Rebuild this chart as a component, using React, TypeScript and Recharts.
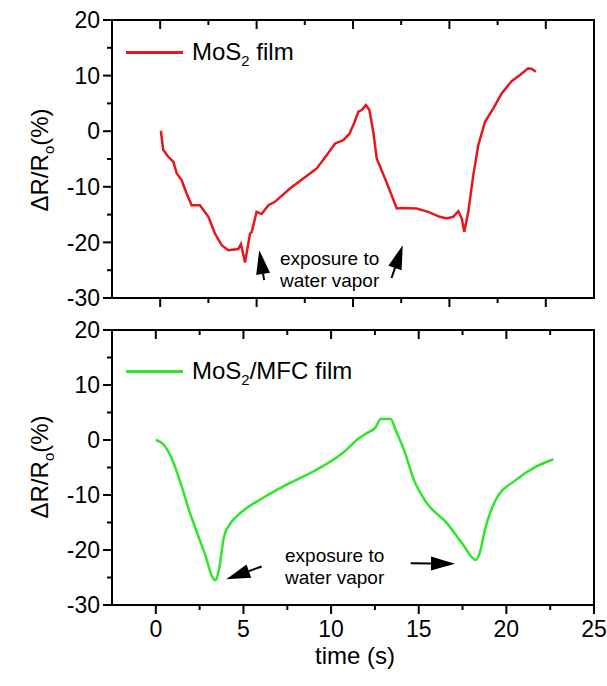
import React from 'react';
import { LineChart, Line, XAxis, YAxis, ReferenceArea, ReferenceLine } from 'recharts';

// MoS2 film response (top panel)
const mos2Time = [0.0, 0.04, 0.16, 0.42, 0.68, 0.86, 1.11, 1.37, 1.63, 2.06, 2.5, 2.84, 3.19, 3.53, 4.05, 4.19, 4.4, 4.66, 4.75, 5.0, 5.26, 5.61, 5.95, 6.73, 7.42, 8.12, 8.64, 9.07, 9.5, 9.81, 10.05, 10.28, 10.45, 10.67, 10.85, 11.05, 11.23, 11.66, 12.0, 12.27, 12.53, 13.3, 13.9, 14.5, 14.86, 15.2, 15.46, 15.64, 15.77, 15.98, 16.24, 16.5, 16.85, 17.28, 17.71, 18.23, 18.66, 19.09, 19.27, 19.49];
const mos2Resp = [0.0, -0.1, -3.4, -4.6, -5.5, -7.6, -8.8, -11.2, -13.3, -13.3, -15.4, -18.4, -20.5, -21.4, -21.2, -20.3, -23.6, -18.4, -18.1, -14.5, -14.9, -13.3, -12.7, -10.3, -8.5, -6.7, -4.3, -2.2, -1.6, -0.5, 1.4, 3.5, 3.8, 4.7, 3.8, -0.1, -4.9, -8.5, -11.5, -13.9, -13.8, -13.9, -14.5, -15.4, -15.7, -15.4, -14.4, -15.7, -18.1, -14.5, -7.9, -2.5, 1.7, 4.1, 6.8, 9.0, 10.1, 11.3, 11.2, 10.7];

// MoS2/MFC film response (bottom panel)
const mfcTime = [0.0, 0.47, 0.94, 1.42, 1.89, 2.37, 2.85, 3.22, 3.42, 3.6, 3.89, 4.27, 4.93, 6.08, 7.6, 9.12, 10.64, 11.59, 12.07, 12.54, 12.83, 13.4, 13.68, 14.16, 14.73, 15.4, 16.63, 17.48, 18.25, 18.44, 18.82, 19.39, 20.53, 21.67, 22.68];
const mfcResp = [0.0, -0.9, -3.6, -7.9, -12.7, -17.0, -21.2, -24.9, -25.5, -23.6, -17.6, -15.1, -13.0, -10.6, -7.9, -5.5, -2.4, 0.3, 1.3, 2.3, 3.8, 3.8, 1.8, -1.8, -7.3, -11.2, -15.2, -18.8, -21.8, -20.9, -15.8, -10.9, -7.3, -4.9, -3.5];

const yTicks = [-30, -25, -20, -15, -10, -5, 0, 5, 10, 15, 20];
const topTimeTicks = [0, 2.5, 5, 7.5, 10, 12.5, 15, 17.5, 20];
const bottomTimeTicks = [0, 2.5, 5, 7.5, 10, 12.5, 15, 17.5, 20, 22.5, 25];

// annotation arrows: [tailX, tailY, tipX, tipY]
const topArrows = [
  [5.39, -26.8, 5.14, -21.4],
  [12.0, -26.4, 12.58, -20.5],
];
const bottomArrows = [
  [6.04, -23.0, 4.02, -25.3],
  [14.54, -22.4, 17.07, -22.5],
];

const FONT = '"Liberation Sans", Arial, Helvetica, sans-serif';
const RED = '#e8171c';
const GREEN = '#2ee62e';

const mos2Data = mos2Time.map((t, i) => ({ t, r: mos2Resp[i] }));
const mfcData = mfcTime.map((t, i) => ({ t, r: mfcResp[i] }));

const makeXTick = (plotH: number, showLabels: boolean) => (props: any) => {
  const { x, y, payload } = props;
  const v = payload.value;
  const major = Math.abs(v % 5) < 1e-6;
  const len = major ? 9 : 5;
  return (
    <g>
      <line x1={x} y1={y} x2={x} y2={y + len} stroke="#000" strokeWidth={2} />
      <line x1={x} y1={y - plotH} x2={x} y2={y - plotH + len} stroke="#000" strokeWidth={2} />
      {showLabels && major && (
        <text x={x} y={y + 24} dy="0.36em" textAnchor="middle" fontSize={23} fontFamily={FONT} fill="#000">
          {v}
        </text>
      )}
    </g>
  );
};

const YTick = (props: any) => {
  const { x, y, payload } = props;
  const v = payload.value;
  const major = v % 10 === 0;
  return (
    <g>
      <line x1={x - (major ? 9 : 5)} y1={y} x2={x} y2={y} stroke="#000" strokeWidth={2} />
      {major && (
        <text x={x - 12} y={y} dy="0.36em" textAnchor="end" fontSize={23} fontFamily={FONT} fill="#000">
          {v}
        </text>
      )}
    </g>
  );
};

const arrowShape = (p: any) => {
  const { x1, y1, x2, y2 } = p;
  const dx = x2 - x1;
  const dy = y2 - y1;
  const L = Math.hypot(dx, dy) || 1;
  const ux = dx / L;
  const uy = dy / L;
  const head = 24;
  const half = 7;
  const bx = x2 - ux * head;
  const by = y2 - uy * head;
  const pts = `${x2},${y2} ${bx - uy * half},${by + ux * half} ${bx + uy * half},${by - ux * half}`;
  return (
    <g>
      <line x1={x1} y1={y1} x2={bx} y2={by} stroke="#000" strokeWidth={2} />
      <polygon points={pts} fill="#000" />
    </g>
  );
};

const Sub = ({ children }: { children: React.ReactNode }) => (
  <span style={{ fontSize: '0.62em', position: 'relative', top: '0.4em' }}>{children}</span>
);

const textStyle: React.CSSProperties = {
  position: 'absolute',
  fontFamily: FONT,
  color: '#000',
  whiteSpace: 'nowrap',
  lineHeight: 1,
};

function YTitle({ top }: { top: number }) {
  return (
    <div
      style={{
        ...textStyle,
        left: 40,
        top,
        fontSize: 24,
        transform: 'translate(-50%, -50%) rotate(-90deg)',
      }}
    >
      ΔR/R<Sub>o</Sub>(%)
    </div>
  );
}

function LegendItem({ top, color, children }: { top: number; color: string; children: React.ReactNode }) {
  return (
    <div style={{ ...textStyle, left: 126, top: top - 12, fontSize: 24, display: 'flex', alignItems: 'center' }}>
      <span style={{ display: 'inline-block', width: 57, height: 3, background: color, marginRight: 9 }} />
      <span>{children}</span>
    </div>
  );
}

function Annotation({ left, top }: { left: number; top: number }) {
  return (
    <div style={{ ...textStyle, left, top, fontSize: 19, lineHeight: '22px', textAlign: 'center' }}>
      exposure to
      <br />
      water vapor
    </div>
  );
}

export default function App() {
  return (
    <div style={{ position: 'absolute', left: 0, top: 0, width: 607, height: 686, background: '#fff', overflow: 'hidden' }}>
      <div style={{ position: 'absolute', left: 0, top: 0 }}>
        <LineChart width={607} height={310} data={mos2Data} margin={{ top: 20, right: 13, left: 52, bottom: 0 }}>
          <XAxis
            dataKey="t"
            type="number"
            domain={[-2.5, 22.5]}
            ticks={topTimeTicks}
            interval={0}
            allowDataOverflow
            axisLine={false}
            tickLine={false}
            tickSize={0}
            tickMargin={0}
            height={12}
            tick={makeXTick(278, false)}
          />
          <YAxis
            type="number"
            domain={[-30, 20]}
            ticks={yTicks}
            interval={0}
            allowDataOverflow
            axisLine={false}
            tickLine={false}
            tickSize={0}
            tickMargin={0}
            width={60}
            tick={YTick}
          />
          <ReferenceArea x1={-2.5} x2={22.5} y1={-30} y2={20} fill="none" stroke="#000" strokeWidth={2} />
          {topArrows.map((a, i) => (
            <ReferenceLine key={i} segment={[{ x: a[0], y: a[1] }, { x: a[2], y: a[3] }]} shape={arrowShape} />
          ))}
          <Line type="linear" dataKey="r" stroke={RED} strokeWidth={2.5} dot={false} isAnimationActive={false} />
        </LineChart>
      </div>
      <div style={{ position: 'absolute', left: 0, top: 310 }}>
        <LineChart width={607} height={376} data={mfcData} margin={{ top: 20, right: 13, left: 52, bottom: 0 }}>
          <XAxis
            dataKey="t"
            type="number"
            domain={[-2.5, 25]}
            ticks={bottomTimeTicks}
            interval={0}
            allowDataOverflow
            axisLine={false}
            tickLine={false}
            tickSize={0}
            tickMargin={0}
            height={81}
            tick={makeXTick(275, true)}
          />
          <YAxis
            type="number"
            domain={[-30, 20]}
            ticks={yTicks}
            interval={0}
            allowDataOverflow
            axisLine={false}
            tickLine={false}
            tickSize={0}
            tickMargin={0}
            width={60}
            tick={YTick}
          />
          <ReferenceArea x1={-2.5} x2={25} y1={-30} y2={20} fill="none" stroke="#000" strokeWidth={2} />
          {bottomArrows.map((a, i) => (
            <ReferenceLine key={i} segment={[{ x: a[0], y: a[1] }, { x: a[2], y: a[3] }]} shape={arrowShape} />
          ))}
          <Line type="monotone" dataKey="r" stroke={GREEN} strokeWidth={2.5} dot={false} isAnimationActive={false} />
        </LineChart>
      </div>

      <YTitle top={160} />
      <YTitle top={467} />
      <LegendItem top={52} color={RED}>
        MoS<Sub>2</Sub> film
      </LegendItem>
      <LegendItem top={371} color={GREEN}>
        MoS<Sub>2</Sub>/MFC film
      </LegendItem>
      <Annotation left={280} top={248} />
      <Annotation left={285} top={545} />
      <div style={{ ...textStyle, left: 355, top: 656, fontSize: 24, transform: 'translate(-50%, -50%)' }}>time (s)</div>
    </div>
  );
}
